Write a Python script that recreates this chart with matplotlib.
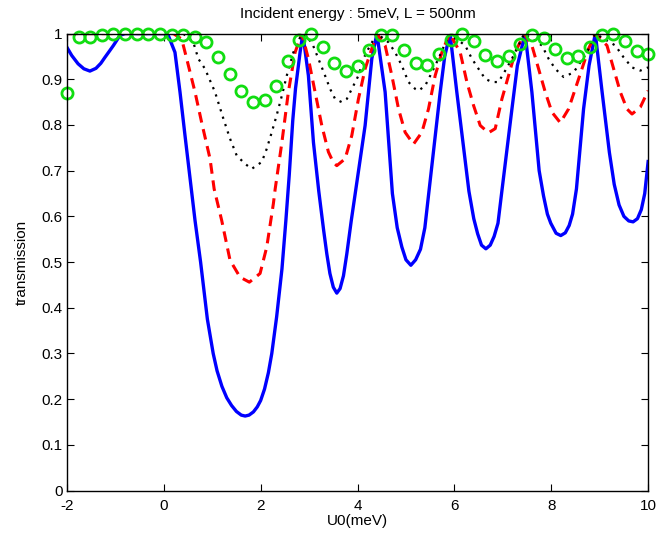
import matplotlib
matplotlib.use("Agg")
import matplotlib.pyplot as plt

# blue solid
blue_x = [-2.0, -1.9, -1.77, -1.65, -1.525, -1.40, -1.30, -1.215, -1.12, -1.04, -0.905, -0.8,
          0.0, 0.093, 0.231, 0.335, 0.438, 0.576, 0.645, 0.76, 0.90, 1.02, 1.10, 1.20, 1.30,
          1.40, 1.50, 1.60, 1.68, 1.76, 1.85, 1.93, 2.00, 2.08, 2.16, 2.23, 2.33, 2.44, 2.52,
          2.59, 2.663, 2.72, 2.814, 2.87, 2.986, 3.09, 3.20, 3.30, 3.366, 3.43, 3.50, 3.572,
          3.64, 3.71, 3.779, 3.87, 3.98, 4.157, 4.295, 4.40, 4.57, 4.72, 4.82, 4.915, 5.00,
          5.101, 5.20, 5.30, 5.39, 5.47, 5.707, 5.80, 5.91, 6.05, 6.30, 6.40, 6.48, 6.56,
          6.65, 6.74, 6.82, 6.90, 6.98, 7.188, 7.30, 7.46, 7.60, 7.75, 7.84, 7.92, 7.99,
          8.10, 8.196, 8.29, 8.37, 8.44, 8.52, 8.667, 8.78, 8.91, 9.05, 9.20, 9.30, 9.40,
          9.50, 9.60, 9.69, 9.78, 9.86, 9.93, 10.0]
blue_y = [0.970, 0.952, 0.934, 0.923, 0.918, 0.924, 0.935, 0.948, 0.962, 0.974, 0.996, 1.0,
          1.0, 0.996, 0.959, 0.872, 0.777, 0.653, 0.591, 0.500, 0.375, 0.300, 0.262, 0.228, 0.203,
          0.186, 0.173, 0.165, 0.163, 0.165, 0.172, 0.183, 0.197, 0.222, 0.258, 0.300, 0.380, 0.485, 0.590,
          0.690, 0.810, 0.880, 0.959, 1.0, 0.908, 0.762, 0.655, 0.570, 0.518, 0.475, 0.445, 0.432,
          0.442, 0.470, 0.518, 0.590, 0.670, 0.799, 0.945, 1.0, 0.872, 0.650, 0.575, 0.533, 0.505,
          0.493, 0.505, 0.528, 0.575, 0.650, 0.872, 0.950, 1.0, 0.872, 0.655, 0.595, 0.562, 0.537,
          0.529, 0.537, 0.556, 0.585, 0.655, 0.835, 0.930, 1.0, 0.872, 0.700, 0.645, 0.605, 0.585,
          0.563, 0.558, 0.564, 0.580, 0.605, 0.660, 0.835, 0.930, 1.0, 0.872, 0.740, 0.670, 0.625,
          0.600, 0.590, 0.588, 0.595, 0.615, 0.650, 0.720]

# red dashed
red_x = [-2.0, 0.2, 0.37, 0.473, 0.645, 0.783, 0.955, 1.04, 1.196, 1.368, 1.574, 1.767, 1.988,
         2.126, 2.263, 2.30, 2.436, 2.572, 2.711, 2.85, 2.986, 3.124, 3.262, 3.399, 3.50, 3.572,
         3.744, 3.882, 4.019, 4.157, 4.295, 4.40, 4.57, 4.709, 4.847, 4.983, 5.155, 5.329, 5.465,
         5.603, 5.742, 5.90, 6.12, 6.258, 6.395, 6.533, 6.705, 6.843, 6.981, 7.118, 7.256, 7.44,
         7.60, 7.738, 7.876, 8.014, 8.186, 8.357, 8.496, 8.634, 8.771, 8.91, 9.15, 9.288, 9.426,
         9.564, 9.667, 9.839, 10.0]
red_y = [1.0, 1.0, 0.988, 0.945, 0.872, 0.805, 0.726, 0.660, 0.591, 0.504, 0.467, 0.456, 0.475,
         0.533, 0.628, 0.660, 0.760, 0.872, 0.959, 1.0, 0.945, 0.872, 0.799, 0.741, 0.718, 0.711,
         0.726, 0.777, 0.857, 0.923, 0.967, 1.0, 0.974, 0.908, 0.835, 0.784, 0.758, 0.784, 0.835,
         0.908, 0.959, 1.0, 0.959, 0.894, 0.843, 0.799, 0.783, 0.792, 0.857, 0.908, 0.959, 1.0,
         0.974, 0.923, 0.872, 0.828, 0.805, 0.835, 0.879, 0.923, 0.967, 1.0, 0.974, 0.923, 0.872,
         0.835, 0.824, 0.839, 0.875]

# black dotted
black_x = [-2.0, 0.4, 0.61, 0.713, 0.851, 1.058, 1.23, 1.368, 1.506, 1.678, 1.816, 2.023, 2.126,
           2.229, 2.33, 2.44, 2.539, 2.676, 2.85, 3.056, 3.192, 3.33, 3.434, 3.537, 3.675, 3.779,
           3.882, 4.019, 4.122, 4.225, 4.40, 4.639, 4.777, 4.915, 5.052, 5.19, 5.258, 5.397,
           5.535, 5.671, 5.90, 6.223, 6.362, 6.498, 6.636, 6.775, 6.911, 7.05, 7.188, 7.325,
           7.44, 7.808, 7.945, 8.083, 8.255, 8.46, 8.60, 8.738, 8.91, 9.322, 9.494, 9.667,
           9.839, 10.0]
black_y = [1.0, 1.0, 0.981, 0.945, 0.923, 0.872, 0.814, 0.770, 0.733, 0.715, 0.704, 0.719, 0.748,
           0.784, 0.821, 0.865, 0.908, 0.959, 1.0, 0.981, 0.945, 0.908, 0.879, 0.857, 0.850, 0.857,
           0.879, 0.908, 0.945, 0.967, 1.0, 0.981, 0.959, 0.930, 0.894, 0.879, 0.875, 0.886,
           0.915, 0.945, 1.0, 0.974, 0.945, 0.923, 0.901, 0.894, 0.894, 0.919, 0.945, 0.974,
           1.0, 0.974, 0.945, 0.923, 0.905, 0.915, 0.937, 0.959, 1.0, 0.974, 0.948, 0.926,
           0.919, 0.926]

# green circles
green_x = [-2.00, -1.76, -1.52, -1.28, -1.04, -0.80, -0.56, -0.32, -0.08, 0.16, 0.40, 0.64,
           0.88, 1.12, 1.36, 1.60, 1.84, 2.08, 2.32, 2.56, 2.80, 3.04, 3.28, 3.52, 3.76, 4.00,
           4.24, 4.48, 4.72, 4.96, 5.20, 5.44, 5.68, 5.92, 6.16, 6.40, 6.64, 6.88, 7.12, 7.36,
           7.60, 7.84, 8.08, 8.32, 8.56, 8.80, 9.04, 9.28, 9.52, 9.76, 10.00]
green_y = [0.870, 0.992, 0.993, 0.997, 0.999, 1.0, 1.0, 1.0, 1.0, 0.998, 0.997, 0.992,
           0.981, 0.948, 0.912, 0.875, 0.851, 0.854, 0.886, 0.939, 0.985, 0.999, 0.970, 0.936,
           0.919, 0.930, 0.965, 0.996, 0.996, 0.965, 0.936, 0.932, 0.956, 0.985, 0.999, 0.983,
           0.953, 0.940, 0.950, 0.978, 0.997, 0.990, 0.967, 0.947, 0.950, 0.970, 0.996, 0.999,
           0.983, 0.963, 0.956]

plt.rcParams['font.family'] = ['Liberation Sans Narrow', 'Liberation Sans', 'DejaVu Sans']
plt.rcParams['axes.unicode_minus'] = False

fig = plt.figure(figsize=(6.56, 5.42), dpi=100)
ax = fig.add_axes([0.102, 0.095, 0.886, 0.843])

ax.plot(blue_x, blue_y, color='#0000ff', lw=2.4)
ax.plot(red_x, red_y, color='#ff0000', lw=2.2, linestyle=(0, (3.5, 2.2)))
ax.plot(black_x, black_y, color='black', lw=1.6, linestyle=(0, (1, 2.5)))
ax.plot(green_x, green_y, 'o', color='#11dd11', mfc='none', ms=8, mew=2, clip_on=False)

ax.set_xlim(-2, 10)
ax.set_ylim(0, 1)
ax.set_xticks([-2, 0, 2, 4, 6, 8, 10])
ax.set_yticks([0, 0.1, 0.2, 0.3, 0.4, 0.5, 0.6, 0.7, 0.8, 0.9, 1])
ax.set_yticklabels(['0', '0.1', '0.2', '0.3', '0.4', '0.5', '0.6', '0.7', '0.8', '0.9', '1'])
ax.tick_params(direction='in', top=True, right=True, length=5, labelsize=11)
ax.tick_params(axis='x', pad=6)
ax.tick_params(axis='y', pad=3)
for s in ax.spines.values():
    s.set_linewidth(1.0)

ax.set_title('Incident energy : 5meV, L = 500nm', fontsize=11, pad=11)
ax.set_xlabel('U0(meV)', fontsize=11, labelpad=1)
ax.set_ylabel('transmission', fontsize=11, labelpad=9)

fig.savefig('out.png', dpi=100)
